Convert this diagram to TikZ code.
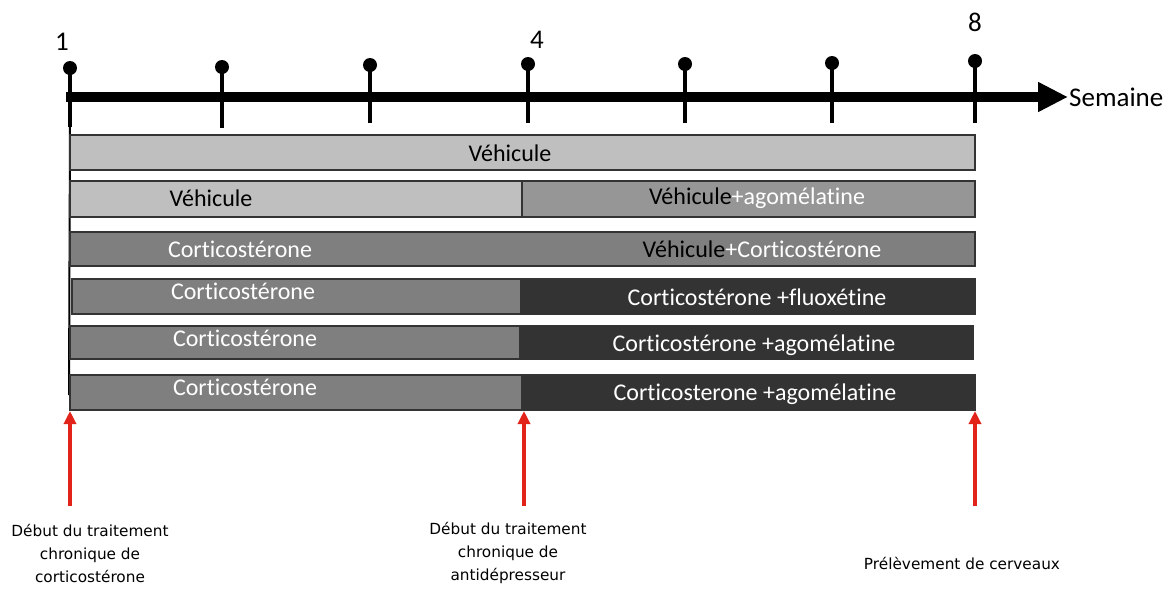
\documentclass[tikz,border=0pt]{standalone}
\usepackage{fontspec}
\setmainfont{Carlito}[Ligatures=NoCommon]
\newfontfamily\labelfont{DejaVu Sans}
\usetikzlibrary{arrows.meta}
\definecolor{lightbar}{HTML}{BFBFBF}
\definecolor{midbar}{HTML}{969696}
\definecolor{corbar}{HTML}{7F7F7F}
\definecolor{darkbar}{HTML}{333333}
\definecolor{arrowred}{HTML}{E2231A}
\begin{document}
\begin{tikzpicture}[x=1pt,y=-1pt,
  bar/.style={draw=black!80, line width=1.1pt},
  bartext/.style={font=\fontsize{24}{28}\selectfont, inner sep=0pt, anchor=center},
  weektext/.style={font=\fontsize{27}{30}\selectfont, inner sep=0pt},
  tickline/.style={line width=4pt},
  pinhead/.style={circle, fill=black, minimum size=14pt, inner sep=0pt},
  redarrow/.style={arrowred, line width=4pt, -{Triangle[length=13pt,width=12pt]}},
  eventtext/.style={font=\labelfont\fontsize{15.3}{23}\selectfont, align=center, inner sep=0pt}
]
\useasboundingbox (0,0) rectangle (1176,590);

% axis
\coordinate (axs) at (66,97);
\coordinate (axe) at (1068,97);
\draw[line width=10pt, -{Triangle[length=30pt,width=28pt]}] (axs) -- (axe);
\node[anchor=west, font=\fontsize{27}{30}\selectfont, inner sep=0pt] (sem) at (1069,97) {Semaine};

% ticks with pin heads
\foreach \n/\x/\yt/\yb in {1/70/68/127, 2/222/67/128, 3/370/65/123, 4/528/64/123, 5/685/64/123, 6/832/63/123, 7/975/61/123}{
  \node[pinhead] (p\n) at (\x,\yt) {};
  \coordinate (t\n) at (\x,\yb);
  \draw[tickline] (p\n.center) -- (t\n);
}
\coordinate (vl) at (69,395);
\draw[line width=2pt] (t1) -- (vl);

\node[weektext] (w1) at (62,42) {1};
\node[weektext] (w4) at (537,40) {4};
\node[weektext] (w8) at (975,22) {8};

% row 1
\draw[bar, fill=lightbar] (70,135) rectangle (975,170);
\node[bartext] (r1) at (510,153) {Véhicule};

% row 2
\draw[bar, fill=lightbar] (70,181) rectangle (522,217);
\draw[bar, fill=midbar] (522,181) rectangle (975,217);
\node[bartext] (r2a) at (211,198) {Véhicule};
\node[bartext] (r2b) at (757,198) {Véhicule{\color{white}+agomélatine}};

% row 3
\draw[bar, fill=corbar] (70,232) rectangle (975,266);
\node[bartext, text=white] (r3a) at (240,249) {Corticostérone};
\node[bartext] (r3b) at (762,249) {Véhicule{\color{white}+Corticostérone}};

% row 4
\draw[bar, fill=corbar] (72,279) rectangle (521,314);
\draw[bar, fill=darkbar] (522,279) rectangle (975,314);
\node[bartext, text=white] (r4a) at (243,291) {Corticostérone};
\node[bartext, text=white] (r4b) at (757,297) {Corticostérone +fluoxétine};

% row 5
\draw[bar, fill=corbar] (70,326) rectangle (520,359);
\draw[bar, fill=darkbar] (520,326) rectangle (973,359);
\node[bartext, text=white] (r5a) at (245,338) {Corticostérone};
\node[bartext, text=white] (r5b) at (754,345) {Corticostérone +agomélatine};

% row 6
\draw[bar, fill=corbar] (70,375) rectangle (522,410);
\draw[bar, fill=darkbar] (522,375) rectangle (975,410);
\node[bartext, text=white] (r6a) at (245,387) {Corticostérone};
\node[bartext, text=white] (r6b) at (755,394) {Corticosterone +agomélatine};

% red arrows
\foreach \n/\x in {1/70, 2/524, 3/975}{
  \coordinate (ab\n) at (\x,506);
  \coordinate (at\n) at (\x,411);
  \draw[redarrow] (ab\n) -- (at\n);
}

% event labels
\node[eventtext] (e1) at (90,553) {Début du traitement\\chronique de\\corticostérone};
\node[eventtext] (e2) at (508,553) {Début du traitement\\chronique de\\antidépresseur};
\node[eventtext] (e3) at (962,563) {Prélèvement de cerveaux};
\end{tikzpicture}
\end{document}
